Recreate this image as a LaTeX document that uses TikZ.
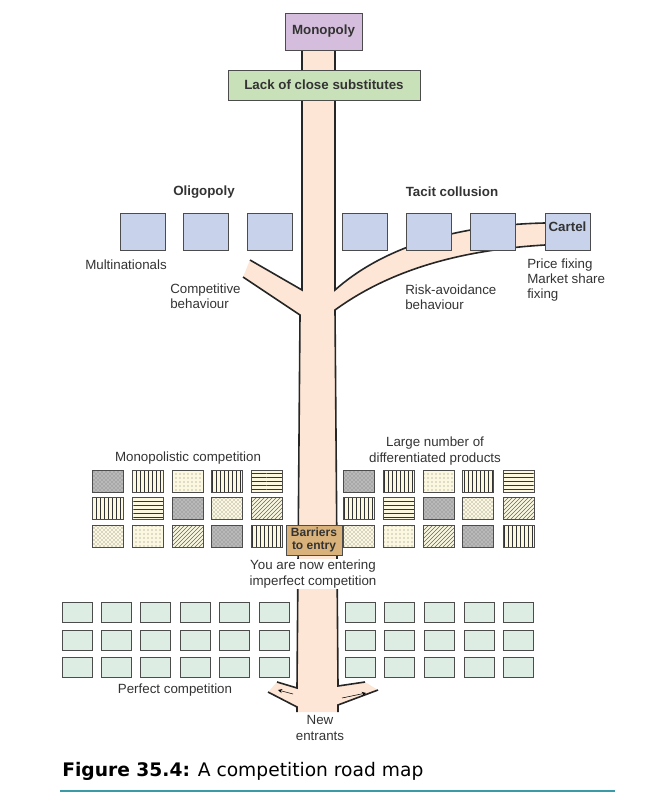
\documentclass[tikz,border=0pt]{standalone}
\usepackage{fontspec}
\setmainfont{Liberation Sans}
\newfontfamily\capfont{DejaVu Sans}
\usetikzlibrary{patterns,arrows}
\definecolor{roadfill}{HTML}{FDE6D6}
\definecolor{monofill}{HTML}{D5BEDD}
\definecolor{lackfill}{HTML}{C9E1B9}
\definecolor{oligofill}{HTML}{C8D2EA}
\definecolor{barrfill}{HTML}{D9B27B}
\definecolor{perffill}{HTML}{DDEDE3}
\definecolor{patfill}{HTML}{FBF8DF}
\definecolor{txt}{HTML}{333333}
\definecolor{capline}{HTML}{3A9AA8}
\tikzstyle{kastje} = [rectangle,draw=black!70,semithick,inner sep=1pt,text=txt]
\tikzstyle{oligo} = [kastje,fill=oligofill,minimum width=33.75pt,minimum height=27.75pt]
\tikzstyle{perf} = [kastje,fill=perffill,minimum width=22.5pt,minimum height=15pt]
\tikzstyle{prod} = [kastje,minimum width=23.25pt,minimum height=16.5pt,preaction={fill=patfill}]
\tikzstyle{pa} = [prod,preaction={fill=gray!55},pattern=crosshatch dots,pattern color=gray!90!black]
\tikzstyle{pv} = [prod,pattern=vertical lines,pattern color=black!80]
\tikzstyle{ph} = [prod,pattern=horizontal lines,pattern color=black!80]
\tikzstyle{pd} = [prod,pattern=dots,pattern color=black!50]
\tikzstyle{pc} = [prod,pattern=crosshatch dots,pattern color=black!60]
\tikzstyle{pn} = [prod,pattern=north east lines,pattern color=black!60]
\tikzstyle{rand} = [very thick,black!85]
\tikzstyle{lbl} = [text=txt,font=\fontsize{10}{11.5}\selectfont,inner sep=0pt]
\tikzstyle{pijl} = [thin,->,>=stealth]
\begin{document}
\begin{tikzpicture}[x=0.75pt,y=-0.75pt]
\useasboundingbox (0,0) rectangle (648,802);

% the road
\fill[roadfill] (302,50) -- (335,50) -- (335,290) .. controls (380,250) and (450,225) .. (545,223)
  -- (545,245) .. controls (460,250) and (390,270) .. (335,310) -- (338,686) -- (365,682) -- (378,690)
  -- (338,705) -- (338,712) -- (297,712) -- (297,707) -- (268,692) -- (277,682) -- (297,688)
  -- (300,315) -- (243,277) -- (250,260) -- (302,290) -- cycle;
\draw[rand] (302,50) -- (302,290) -- (250,260);
\draw[rand] (243,277) -- (300,315) -- (297,688) -- (277,682);
\draw[rand] (268,692) -- (297,707) -- (297,712);
\draw[rand] (335,50) -- (335,290) .. controls (380,250) and (450,225) .. (545,223);
\draw[rand] (545,245) .. controls (460,250) and (390,270) .. (335,310) -- (338,686) -- (365,682);
\draw[rand] (378,690) -- (338,705) -- (338,712);
\coordinate (la1) at (293,694);
\coordinate (la2) at (278,690);
\coordinate (ra1) at (342,698);
\coordinate (ra2) at (366,693);
\draw[pijl] (la1) -- (la2);
\draw[pijl] (ra1) -- (ra2);

% top
\node (mono) [kastje,fill=monofill,minimum width=57.75pt,minimum height=27.75pt,font=\bfseries\fontsize{10}{12}\selectfont] at (323.5,31.5) {Monopoly};
\node (lack) [kastje,fill=lackfill,minimum width=144pt,minimum height=22.5pt,font=\bfseries\fontsize{10}{12}\selectfont] at (324,85) {Lack of close substitutes};

% oligopoly
\foreach \x [count=\i] in {142.5,205.5,269.5,364.5,428.5,492.5}
  \node (ol\i) [oligo] at (\x,231.5) {};
\node (cartel) [oligo,font=\bfseries\fontsize{10}{12}\selectfont,anchor=north,text depth=8pt] at (567.5,213) {Cartel};
\node (oligolbl) [lbl,font=\bfseries\fontsize{10}{12}\selectfont] at (204,192) {Oligopoly};
\node (tacit) [lbl,font=\bfseries\fontsize{10}{12}\selectfont] at (452,192) {Tacit collusion};
\node (multi) [lbl,anchor=west] at (85,265) {Multinationals};
\node (compet) [lbl,anchor=west,align=left] at (170,296) {Competitive\\behaviour};
\node (risk) [lbl,anchor=west,align=left] at (405,297) {Risk-avoidance\\behaviour};
\node (price) [lbl,anchor=west,align=left] at (527,280) {Price fixing\\Market share\\fixing};

% monopolistic competition
\foreach \x/\s [count=\i] in {107.5/pa,147.5/pv,187.5/pd,227/pv,267/ph,359/pa,398.5/pv,438.5/pd,478/pv,518.5/ph}
  \node (ma\i) [\s] at (\x,481) {};
\foreach \x/\s [count=\i] in {107.5/pv,147.5/ph,187.5/pa,227/pc,267/pn,359/pv,398.5/ph,438.5/pa,478/pc,518.5/pn}
  \node (mb\i) [\s] at (\x,508) {};
\foreach \x/\s [count=\i] in {107.5/pc,147.5/pd,187.5/pn,227/pa,267/pv,359/pc,398.5/pd,438.5/pn,478/pa,518.5/pv}
  \node (mc\i) [\s] at (\x,536) {};
\node (barr) [kastje,fill=barrfill,minimum width=42pt,minimum height=22.5pt,align=center,font=\bfseries\fontsize{9}{10}\selectfont] at (314,540) {Barriers\\to entry};
\node (monolbl) [lbl] at (188,458) {Monopolistic competition};
\node (large) [lbl,align=center] at (435,451) {Large number of\\differentiated products};
\node (enter) [lbl,align=center,fill=white,inner sep=1pt] at (313,574) {You are now entering\\imperfect competition};

% perfect competition
\foreach \y [count=\j] in {612,640,667}
  \foreach \x [count=\i] in {77,116,155,195,234,274,360.5,399,439,479,518.5}
    \node (pc\j-\i) [perf] at (\x,\y) {};
\node (perflbl) [lbl] at (175,690) {Perfect competition};
\node (new) [lbl,align=center] at (320,728) {New\\entrants};

% caption
\node (cap) [anchor=west,inner sep=0pt,font=\capfont\fontsize{14}{16}\selectfont] at (62,771) {\textbf{Figure 35.4:} A competition road map};
\coordinate (c1) at (60,791);
\coordinate (c2) at (615,791);
\draw[capline,thick] (c1) -- (c2);
\end{tikzpicture}
\end{document}
